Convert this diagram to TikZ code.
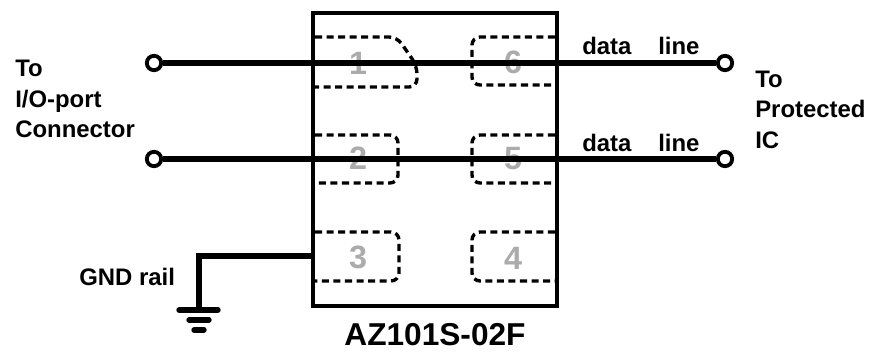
\documentclass[tikz,border=0pt]{standalone}
\usepackage{fontspec}
\setmainfont{Liberation Sans}
\tikzset{
    term/.style={circle,draw,line width=2.7pt,minimum size=0.36cm,inner sep=0pt},
    wire/.style={line width=3.8pt},
    pad/.style={line width=2.4pt,dash pattern=on 5pt off 3.2pt,rounded corners=0.2cm},
    pin/.style={text=black!33,font=\fontsize{23}{23}\selectfont\bfseries,inner sep=0pt},
    lbl/.style={font=\fontsize{17}{22}\selectfont\bfseries,align=left,inner sep=0pt},
}
\begin{document}
\begin{tikzpicture}[x=0.025cm,y=-0.025cm]
    \useasboundingbox (0,0) rectangle (869,352);

    \node[pin] (p1) at (358,63) {1};
    \node[pin] (p2) at (358,158) {2};
    \node[pin] (p3) at (358,257) {3};
    \node[pin] (p4) at (513,258) {4};
    \node[pin] (p5) at (513,159) {5};
    \node[pin] (p6) at (513,62) {6};

    \draw[pad] (315,37)--(397,37)--(417,66)--(417,87)--(315,87);
    \draw[pad] (555,37)--(472,37)--(472,85)--(555,85);
    \draw[pad] (315,135)--(398,135)--(398,183)--(315,183);
    \draw[pad] (555,135)--(472,135)--(472,183)--(555,183);
    \draw[pad] (315,232)--(399,232)--(399,281)--(315,281);
    \draw[pad] (555,232)--(472,232)--(472,281)--(555,281);

    \node[draw,line width=2.8pt,minimum width=6.1cm,minimum height=7.325cm,inner sep=0pt] (chip) at (435,159.5) {};

    \node[term] (inA) at (154,63) {};
    \node[term] (inB) at (154,159) {};
    \node[term] (outA) at (725,63) {};
    \node[term] (outB) at (725,159) {};
    \draw[wire] (inA)--(outA);
    \draw[wire] (inB)--(outB);

    \coordinate (gnd) at (199,310);
    \coordinate (pin3) at (313,256);
    \draw[wire] (pin3)-|(gnd);
    \draw[line width=3.8pt,line cap=round] (179,310)--(218,310);
    \draw[line width=3.8pt,line cap=round] (189,320)--(209,320);
    \draw[line width=3.8pt,line cap=round] (194,330)--(204,330);

    \node[lbl,anchor=base west] (src) at (15,77) {To};
    \node[lbl,anchor=base west] (srcB) at (15,108) {I/O-port};
    \node[lbl,anchor=base west] (srcC) at (15,138) {Connector};
    \node[lbl,anchor=base west] (dst) at (755,88) {To};
    \node[lbl,anchor=base west] (dstB) at (755,118) {Protected};
    \node[lbl,anchor=base west] (dstC) at (755,149) {IC};
    \node[lbl,anchor=base west] (dataA) at (582,55) {data};
    \node[lbl,anchor=base west] (lineA) at (658,55) {line};
    \node[lbl,anchor=base west] (dataB) at (582,152) {data};
    \node[lbl,anchor=base west] (lineB) at (658,152) {line};
    \node[lbl,anchor=base west] (rail) at (79,286) {GND rail};
    \node[anchor=base,font=\fontsize{22.5}{24}\selectfont\bfseries,inner sep=0pt] (part) at (435,346) {AZ101S-02F};
\end{tikzpicture}
\end{document}
